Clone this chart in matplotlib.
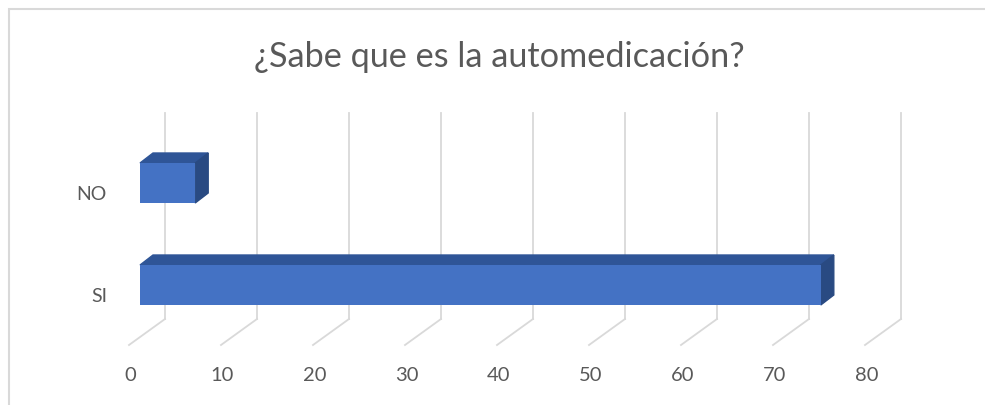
import matplotlib.pyplot as plt
from matplotlib.patches import Polygon, Rectangle

categories = ['SI', 'NO']
values = [74, 6]
ticks = [0, 10, 20, 30, 40, 50, 60, 70, 80]
title = '¿Sabe que es la automedicación?'

plt.rcParams['font.family'] = ['Lato', 'DejaVu Sans']
txt = '#595959'
grid = '#d9d9d9'

fig = plt.figure(figsize=(9.85, 4.06), dpi=100)
ax = fig.add_axes([140 / 985, (406 - 337) / 406, 736 / 985, 204 / 406])
ax.set_xlim(0, 80)
ax.set_ylim(-0.5, 1.5)
ax.axis('off')

# pixel -> data units, for the fake 3d depth
ux = 80 / 736
uy = 2 / 204
back = (25 * ux, 17 * uy)
front = (-11 * ux, -9 * uy)
depth = (13 * ux, 10 * uy)

# back wall gridlines + floor lines
for t in ticks:
    ax.plot([t + back[0]] * 2, [-0.5 + back[1], 1.52 + back[1]],
            color=grid, lw=1.3, clip_on=False, zorder=1)
    ax.plot([t + back[0], t + front[0]], [-0.5 + back[1], -0.5 + front[1]],
            color=grid, lw=1.3, clip_on=False, zorder=1)
    ax.text(t - 9.5 * ux, -0.5 - 39 * uy, str(t), ha='center', va='center',
            fontsize=14.5, color=txt)

h = 0.392
for i, (c, v) in enumerate(zip(categories, values)):
    ax.barh(i, v, height=h, color='#4472C4', zorder=3)
    top = [(0, i + h / 2), (v, i + h / 2),
           (v + depth[0], i + h / 2 + depth[1]), (depth[0], i + h / 2 + depth[1])]
    side = [(v, i - h / 2), (v, i + h / 2),
            (v + depth[0], i + h / 2 + depth[1]), (v + depth[0], i - h / 2 + depth[1])]
    ax.add_patch(Polygon(top, closed=True, color='#2F5597', zorder=2, clip_on=False))
    ax.add_patch(Polygon(side, closed=True, color='#294A82', zorder=2, clip_on=False))
    ax.text(-33 * ux, i - 11 * uy, c, ha='right', va='center', fontsize=14, color=txt)

fig.text(499 / 985, (406 - 67) / 406, title, ha='center', va='baseline',
         fontsize=24.7, color=txt)

fig.patches.append(Rectangle((8.5 / 985, -0.05), 1.2, (406 - 10) / 406 + 0.05,
                             transform=fig.transFigure, fill=False,
                             edgecolor=grid, lw=1.5))

fig.savefig('out.png', dpi=100)
